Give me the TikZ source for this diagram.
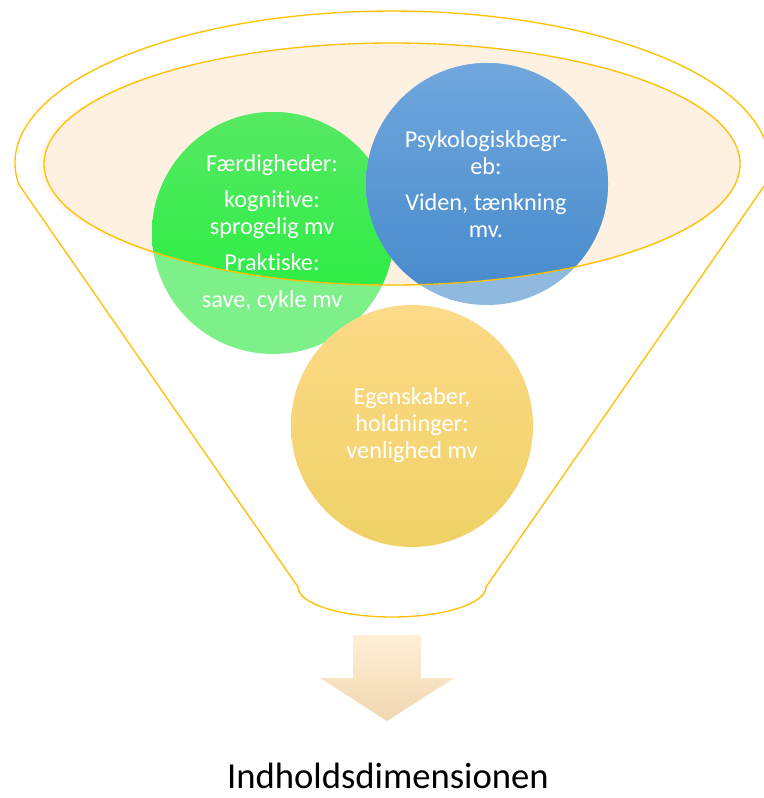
\documentclass[tikz,border=0pt]{standalone}
\usepackage{fontspec}
\setmainfont{Carlito}[Ligatures=NoCommon]
\usetikzlibrary{positioning}
\definecolor{fnorange}{HTML}{FFC000}
\definecolor{fnpeach}{HTML}{FEF1E1}
\definecolor{fnglow}{HTML}{FFF8F0}
\definecolor{fglight}{HTML}{7EF08A}
\definecolor{fgtop}{HTML}{57E964}
\definecolor{fgbot}{HTML}{1FEE3A}
\definecolor{fblight}{HTML}{8FB9DF}
\definecolor{fbtop}{HTML}{70A7DD}
\definecolor{fbbot}{HTML}{4589CB}
\definecolor{fytop}{HTML}{FDDA88}
\definecolor{fymid}{HTML}{FFDA68}
\definecolor{fybot}{HTML}{EFD166}
\definecolor{fatop}{HTML}{FFEFD6}
\definecolor{fabot}{HTML}{F1D6B0}

\begin{document}
\begin{tikzpicture}[x=0.75pt,y=0.75pt,
  rim/.style={draw=fnorange,line width=1pt},
  lbl/.style={text=white,align=center,font=\fontsize{18.2}{20.3}\selectfont}
]
\useasboundingbox (0,0) rectangle (763,-798);

% Funnel body (outline only)
\draw[rim] (18.7,-184.2) arc[start angle=188,end angle=-8,x radius=377,y radius=152]
  -- (486,-587) arc[start angle=0,end angle=-180,x radius=94,y radius=30] -- cycle;

% Top opening
\fill[fnglow] (390,-165) ellipse (351 and 122);
\fill[fnpeach] (392,-164) ellipse (348 and 121);

% Circles
\coordinate (cg) at (273,-233);
\coordinate (cb) at (487,-184);
\coordinate (cy) at (412,-426);

\fill[fglight] (cg) circle (121);
\fill[fblight] (cb) circle (121);
\shade[top color=fytop,middle color=fymid,bottom color=fybot] (cy) circle (121);
\begin{scope}
  \clip (392,-164) ellipse (348 and 121);
  \shade[top color=fgtop,bottom color=fgbot] (cg) circle (121);
  \shade[top color=fbtop,bottom color=fbbot] (cb) circle (121);
\end{scope}
\draw[rim] (392,-164) ellipse (348 and 121);

% Labels
\node[lbl] (tg) at (272,-233) {Færdigheder:\\[6.5pt]kognitive:\\sprogelig mv\\[6.8pt]Praktiske:\\[7.5pt]save, cykle mv};
\node[lbl] (tb) at (486,-184) {Psykologiskbegr-\\eb:\\[6.8pt]Viden, tænkning\\mv.};
\node[lbl] (ty) at (412,-425) {Egenskaber,\\holdninger:\\venlighed mv};

% Output arrow and title
\shade[top color=fatop,bottom color=fabot] (353,-635) -- (421,-635) -- (421,-678) -- (454,-678)
  -- (387,-721) -- (320,-678) -- (353,-678) -- cycle;
\node[font=\fontsize{27.5}{33}\selectfont] (ttl) at (388,-776) {Indholdsdimensionen};

\end{tikzpicture}
\end{document}
